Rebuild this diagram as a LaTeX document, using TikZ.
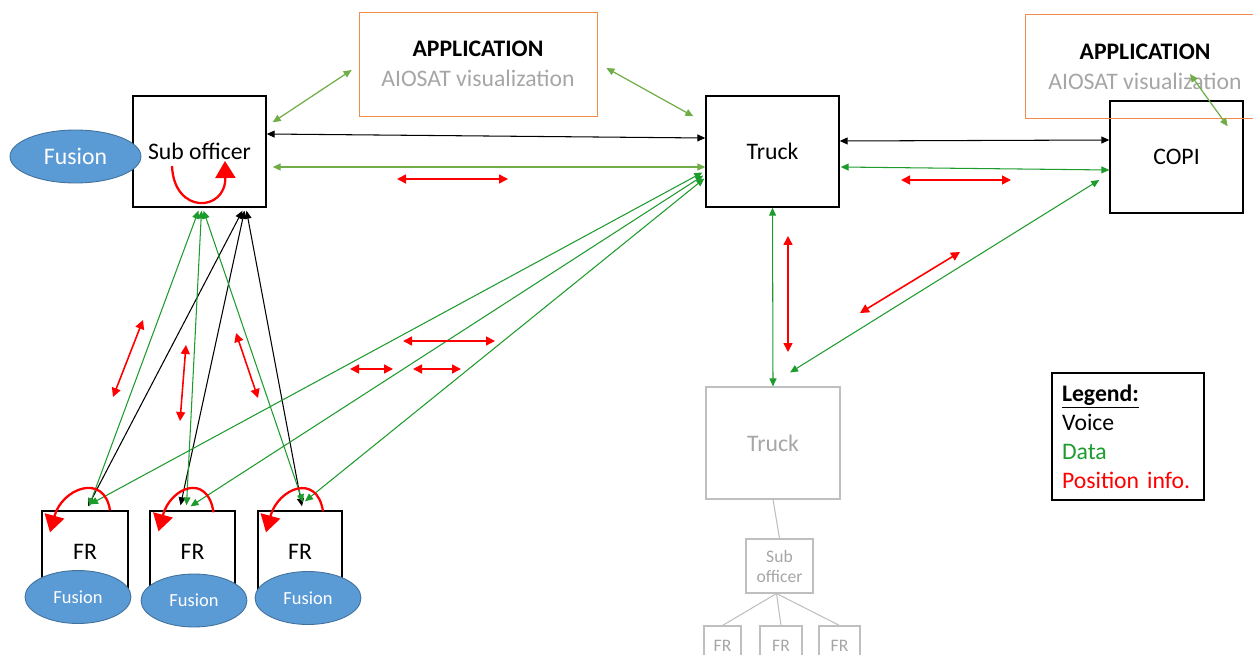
\documentclass[tikz,border=0pt]{standalone}
\usepackage{fontspec}
\setmainfont{Carlito}
\usetikzlibrary{arrows.meta,shapes.geometric,calc}
\definecolor{fusionblue}{RGB}{91,155,213}
\definecolor{fusionedge}{RGB}{65,113,156}
\definecolor{appedge}{RGB}{240,140,75}
\definecolor{appgreen}{RGB}{112,173,71}
\definecolor{datagreen}{RGB}{30,155,45}
\definecolor{textgray}{RGB}{166,166,166}
\definecolor{boxgray}{RGB}{191,191,191}
\begin{document}
\begin{tikzpicture}[x=0.02cm,y=-0.02cm,
    box/.style={draw, line width=0.8pt, minimum width=2.66cm, minimum height=2.22cm, inner sep=0pt, font=\fontsize{13.5}{16}\selectfont},
    appbox/.style={draw=appedge, line width=0.45pt, minimum width=4.76cm, minimum height=2.08cm, inner sep=0pt, align=center, font=\fontsize{13.5}{17}\selectfont},
    fusion/.style={ellipse, draw=fusionedge, line width=0.5pt, fill=fusionblue, text=white, inner sep=0pt, minimum width=2.12cm, minimum height=1.06cm, font=\fontsize{10.5}{12}\selectfont},
    frbox/.style={draw, line width=0.8pt, minimum width=1.72cm, minimum height=1.64cm, inner sep=0pt, font=\fontsize{13.5}{16}\selectfont},
    smallbox/.style={draw=boxgray, line width=0.6pt, text=textgray, inner sep=0pt, align=center, font=\fontsize{10}{11.4}\selectfont},
    legend/.style={draw, line width=0.8pt, text width=2.64cm, inner xsep=0.2cm, minimum height=2.54cm, align=left, font=\fontsize{13.5}{16.5}\selectfont},
    tip/.style={{Triangle[length=1.6mm,width=1.4mm]}-{Triangle[length=1.6mm,width=1.4mm]}},
    voice/.style={tip, black, line width=0.6pt},
    data/.style={tip, datagreen, line width=0.6pt},
    appdata/.style={tip, appgreen, line width=0.7pt},
    position/.style={{Triangle[length=1.8mm,width=1.8mm]}-{Triangle[length=1.8mm,width=1.8mm]}, red, line width=0.9pt},
    selfloop/.style={-{Triangle[length=3.4mm,width=4mm]}, red, line width=1.3pt}]
\useasboundingbox (0,0) rectangle (1253,655);

\node[box] (subofficer) at (199.5,151.5) {Sub officer};
\node[fusion, minimum width=2.62cm, font=\fontsize{13.5}{16}\selectfont] (fusion) at (75.5,156.5) {Fusion};
\node[appbox] (app) at (478,64) {\textbf{APPLICATION}\\\textcolor{textgray}{AIOSAT visualization}};
\node[box] (truck) at (772.5,151.5) {Truck};
\node[box, minimum height=2.24cm] (copi) at (1176.5,157) {COPI};
\node[appbox, minimum width=4.8cm] (appcopi) at (1145,66.5) {\textbf{APPLICATION}\\\textcolor{textgray}{AIOSAT visualization}};
\node[box, draw=boxgray, text=textgray, line width=0.6pt, minimum width=2.68cm, minimum height=2.24cm] (truckb) at (773,443) {Truck};
\node[smallbox, minimum width=1.34cm, minimum height=1.08cm] (subsmall) at (779.5,566) {Sub\\officer};
\node[smallbox, minimum width=0.74cm, minimum height=0.8cm] (frsone) at (722.5,646) {FR};
\node[smallbox, minimum width=0.84cm, minimum height=0.8cm] (frstwo) at (781,646) {FR};
\node[smallbox, minimum width=0.82cm, minimum height=0.8cm] (frsthree) at (839.5,646) {FR};
\node[legend] (legend) at (1128,436.5) {\underline{\textbf{Legend:}}\\Voice\\\textcolor{datagreen}{Data}\\\textcolor{red}{Position info.}};

\node[frbox] (fr1) at (85,552) {FR};
\node[frbox, minimum width=1.70cm] (fr2) at (192.5,552) {FR};
\node[frbox, minimum width=1.68cm] (fr3) at (300,552) {FR};
\node[fusion] (fusion1) at (78,597) {Fusion};
\node[fusion] (fusion2) at (194,600.5) {Fusion};
\node[fusion] (fusion3) at (308,598) {Fusion};

\draw[boxgray, line width=0.6pt] (truckb.south) to (subsmall.north); \draw[boxgray, line width=0.6pt] ($(subsmall.south)+(-3,0)$) to (frsone.north); \draw[boxgray, line width=0.6pt] ($(subsmall.south)+(-3,0)$) to (frstwo.north); \draw[boxgray, line width=0.6pt] ($(subsmall.south)+(-3,0)$) to (frsthree.north);

\draw[voice] ($(subofficer.east)+(0,-17.5)$) to ($(truck.west)+(0,-13.5)$); \draw[voice] ($(truck.east)+(0,-10.5)$) to ($(copi.west)+(0,-17)$);
\draw[voice] ($(subofficer.south)+(43,3)$) to ($(fr1.north)+(3,-4)$); \draw[voice] ($(subofficer.south)+(45,3)$) to ($(fr2.north)+(-12,-5)$); \draw[voice] ($(subofficer.south)+(47,3)$) to ($(fr3.north)+(2,-4)$);

\draw[appdata] ($(subofficer.east)+(6,15.5)$) to ($(truck.west)+(0,15.5)$); \draw[appdata] ($(subofficer.north east)+(6,27)$) to ($(app.west)+(-7,6)$); \draw[appdata] ($(app.east)+(9,4)$) to ($(truck.north west)+(-12,21)$); \draw[appdata] ($(appcopi.center)+(45,7.5)$) to ($(copi.north east)+(-16,26)$);
\draw[data] ($(truck.east)+(1,15.5)$) to ($(copi.west)+(0,13)$); \draw[data] (truck.south) to (truckb.north); \draw[data] ($(copi.west)+(-10,23)$) to ($(truckb.north)+(17,-14)$);
\draw[data] ($(subofficer.south)+(-1,3)$) to ($(fr1.north)+(4,-4)$); \draw[data] ($(subofficer.south)+(2,3)$) to ($(fr2.north)+(-6,-5)$); \draw[data] ($(subofficer.south)+(4,3)$) to ($(fr3.north)+(3,-8)$);
\draw[data] ($(truck.west)+(-3,21)$) to ($(fr1.north)+(5,-6)$); \draw[data] ($(truck.west)+(-2,24)$) to ($(fr2.north)+(-2,-4)$); \draw[data] ($(truck.west)+(-1,27)$) to ($(fr3.north)+(5,-9)$);

\coordinate (pos1a) at (397,179); \coordinate (pos1b) at (508,179);
\coordinate (pos2a) at (901,180); \coordinate (pos2b) at (1011,180);
\coordinate (pos3a) at (788,236); \coordinate (pos3b) at (788,352);
\coordinate (pos4a) at (860,313); \coordinate (pos4b) at (960,252);
\coordinate (pos5a) at (113,397); \coordinate (pos5b) at (143,320);
\coordinate (pos6a) at (180,421); \coordinate (pos6b) at (186,345);
\coordinate (pos7a) at (236,333); \coordinate (pos7b) at (258,398);
\coordinate (pos8a) at (350,369); \coordinate (pos8b) at (393,369);
\coordinate (pos9a) at (413,369); \coordinate (pos9b) at (461,369);
\coordinate (pos10a) at (403,341); \coordinate (pos10b) at (495,341);
\draw[position] (pos1a) to (pos1b); \draw[position] (pos2a) to (pos2b); \draw[position] (pos3a) to (pos3b); \draw[position] (pos4a) to (pos4b); \draw[position] (pos5a) to (pos5b);
\draw[position] (pos6a) to (pos6b); \draw[position] (pos7a) to (pos7b); \draw[position] (pos8a) to (pos8b); \draw[position] (pos9a) to (pos9b); \draw[position] (pos10a) to (pos10b);

\draw[selfloop] ($(subofficer.center)+(-27.5,14.5)$) .. controls +(2,49) and +(1,51) .. ($(subofficer.center)+(25.5,9.5)$);
\draw[selfloop] ($(fr1.north)+(25,0)$) .. controls +(-6,-38) and +(12,-44) .. ($(fr1.north)+(-35,22)$);
\draw[selfloop] ($(fr2.north)+(21,2)$) .. controls +(-6,-40) and +(12,-44) .. ($(fr2.north)+(-34,21)$);
\draw[selfloop] ($(fr3.north)+(23,1)$) .. controls +(-6,-39) and +(12,-44) .. ($(fr3.north)+(-34,22)$);
\end{tikzpicture}
\end{document}
